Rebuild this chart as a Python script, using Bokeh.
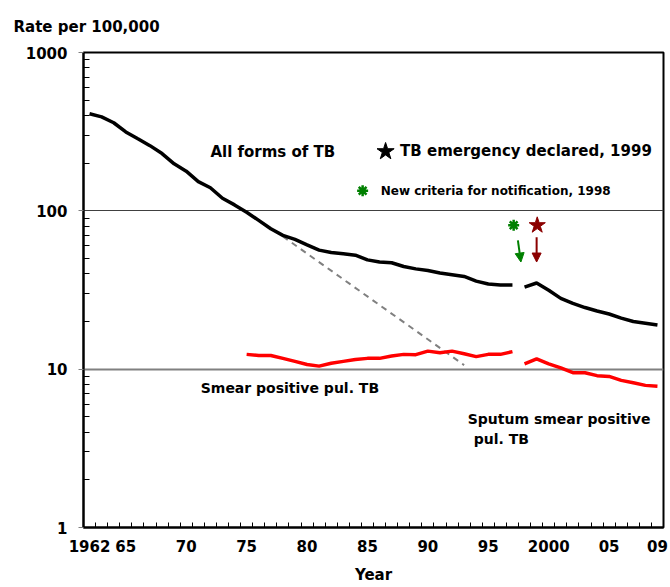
from bokeh.plotting import figure
from bokeh.models import Range1d, FixedTicker, Label, Arrow, NormalHead, Grid
from bokeh.embed import file_html
from bokeh.resources import INLINE

# ---- data ----
allforms_years_a = list(range(1962, 1998))
allforms_a = [410, 392, 360, 315, 285, 258, 230, 198, 178, 153, 140, 120, 109, 98,
              87, 77, 70, 66, 61, 56.5, 54.5, 53.5, 52.5, 49, 47.5, 47, 44.5, 43,
              42, 40.5, 39.5, 38.5, 36, 34.5, 34, 34]
allforms_years_b = list(range(1998, 2010))
allforms_b = [33, 35, 31.5, 28, 26, 24.5, 23.3, 22.3, 21, 20, 19.5, 19]

smear_years = list(range(1975, 1998))
smear = [12.4, 12.2, 12.2, 11.7, 11.2, 10.7, 10.45, 10.9, 11.2, 11.5, 11.7, 11.7,
         12.1, 12.4, 12.35, 13.0, 12.7, 13.0, 12.5, 12.0, 12.4, 12.4, 12.9]
sputum_years = list(range(1998, 2010))
sputum = [10.8, 11.6, 10.8, 10.2, 9.5, 9.5, 9.1, 9.0, 8.5, 8.2, 7.9, 7.8]

trend_years = [1978, 1993]
trend_vals = [69, 10.6]

x_label_years = [1962, 1965, 1970, 1975, 1980, 1985, 1990, 1995, 2000, 2005, 2009]
x_labels = ["1962", "65", "70", "75", "80", "85", "90", "95", "2000", "05", "09"]
y_ticks = [1, 10, 100, 1000]
y_labels = ["1", "10", "100", "1000"]

FONT = "DejaVu Sans"

p = figure(width=670, height=587, x_range=Range1d(1961.5, 2009.5),
           y_range=Range1d(1, 1000), y_axis_type="log",
           output_backend="svg", toolbar_location=None,
           min_border_left=83, min_border_right=7, min_border_top=52,
           min_border_bottom=60)
p.background_fill_color = "white"
p.border_fill_color = "white"
p.outline_line_color = "black"
p.outline_line_width = 2

# title used as the y-axis caption at the top-left
p.title.text = "Rate per 100,000"
p.title.align = "left"
p.title.vertical_align = "top"
p.title.offset = -70
p.title.standoff = 30
p.title.text_font = FONT
p.title.text_font_style = "bold"
p.title.text_font_size = "15px"
p.title.text_color = "black"

# x axis
p.xaxis.ticker = FixedTicker(ticks=x_label_years,
                             minor_ticks=[y - 0.5 for y in range(1962, 2011)])
p.xaxis.major_label_overrides = {y: l for y, l in zip(x_label_years, x_labels)}
p.xaxis.major_tick_line_color = None
p.xaxis.major_tick_in = 0
p.xaxis.major_tick_out = 0
p.xaxis.minor_tick_in = 5
p.xaxis.minor_tick_out = 0
p.xaxis.minor_tick_line_color = "black"
p.xaxis.axis_line_width = 2
p.xaxis.major_label_standoff = 12
p.xaxis.major_label_text_font = FONT
p.xaxis.major_label_text_font_style = "bold"
p.xaxis.major_label_text_font_size = "15px"
p.xaxis.major_label_text_color = "black"
p.xaxis.axis_label = "Year"
p.xaxis.axis_label_text_font = FONT
p.xaxis.axis_label_text_font_style = "bold"
p.xaxis.axis_label_text_font_size = "15px"
p.xaxis.axis_label_text_color = "black"
p.xaxis.axis_label_standoff = 11

# y axis
minor = [k * 10 ** e for e in range(0, 3) for k in range(2, 10)]
p.yaxis.ticker = FixedTicker(ticks=y_ticks, minor_ticks=minor)
p.yaxis.major_label_overrides = {t: l for t, l in zip(y_ticks, y_labels)}
p.yaxis.major_tick_in = 0
p.yaxis.major_tick_out = 5
p.yaxis.major_tick_line_color = "#808080"
p.yaxis.minor_tick_in = 6
p.yaxis.minor_tick_out = 0
p.yaxis.minor_tick_line_color = "black"
p.yaxis.axis_line_width = 2
p.yaxis.major_label_standoff = 11
p.yaxis.major_label_text_font = FONT
p.yaxis.major_label_text_font_style = "bold"
p.yaxis.major_label_text_font_size = "15px"
p.yaxis.major_label_text_color = "black"

p.xgrid.visible = False
p.ygrid.ticker = FixedTicker(ticks=[10])
p.ygrid.grid_line_color = "#808080"
p.ygrid.grid_line_width = 2
p.add_layout(Grid(dimension=1, ticker=FixedTicker(ticks=[100]),
                  grid_line_color="#404040", grid_line_width=1))

# lines
p.line(trend_years, trend_vals, line_color="#808080", line_width=2, line_dash="6 5")
p.line(allforms_years_a, allforms_a, line_color="black", line_width=3.5)
p.line(allforms_years_b, allforms_b, line_color="black", line_width=3.5)
p.line(smear_years, smear, line_color="#FF0000", line_width=3.5)
p.line(sputum_years, sputum, line_color="#FF0000", line_width=3.5)

# annotation markers and arrows
p.scatter([1999.05], [81], marker="star", size=17, color="#8B0000")
p.scatter([1997.1], [81], marker="asterisk", size=11, line_width=2.5, color="#008000")
p.add_layout(Arrow(x_start=1997.45, y_start=65, x_end=1997.7, y_end=47.5,
                   line_color="#008000", line_width=2,
                   end=NormalHead(size=9, fill_color="#008000", line_color="#008000")))
p.add_layout(Arrow(x_start=1999.0, y_start=68, x_end=1999.0, y_end=47.5,
                   line_color="#8B0000", line_width=2,
                   end=NormalHead(size=9, fill_color="#8B0000", line_color="#8B0000")))

# legend-like symbols
p.scatter([1986.5], [237], marker="star", size=18, color="black")
p.scatter([1984.6], [134], marker="asterisk", size=11, line_width=2.5, color="#008000")


def add_text(x, y, txt, size):
    p.add_layout(Label(x=x, y=y, text=txt, text_font=FONT, text_font_style="bold",
                       text_font_size=size, text_baseline="middle", text_align="left",
                       text_color="black"))


add_text(1987.7, 237, "TB emergency declared, 1999", "15px")
add_text(1986.1, 134, "New criteria for notification, 1998", "12px")
add_text(1972.0, 234, "All forms of TB", "15px")
add_text(1971.2, 7.55, "Smear positive pul. TB", "14px")
add_text(1993.3, 4.81, "Sputum smear positive", "14px")
add_text(1993.8, 3.6, " pul. TB", "14px")

open("out.html", "w").write(file_html(p, INLINE))
